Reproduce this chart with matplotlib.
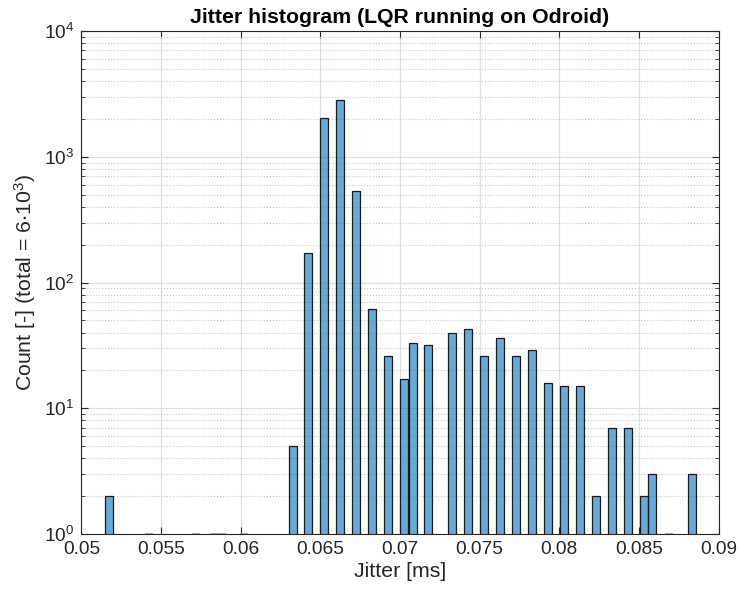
import matplotlib.pyplot as plt
from matplotlib.ticker import LogLocator, NullFormatter

# Jitter histogram data (bin centres in ms, counts per bin)
bin_width = 0.0005
jitter_ms = [0.05171, 0.06326, 0.06424, 0.06525, 0.06623, 0.06726, 0.06826,
             0.06927, 0.07025, 0.07079, 0.07178, 0.07328, 0.07429, 0.07529,
             0.07630, 0.07730, 0.07830, 0.07931, 0.08032, 0.08130, 0.08231,
             0.08331, 0.08432, 0.08532, 0.08582, 0.08834]
counts = [2, 5, 173, 2030, 2815, 537, 62, 26, 17, 33, 32, 40, 43, 26,
          36, 26, 29, 16, 15, 15, 2, 7, 7, 2, 3, 3]
# empty bins inside the data range
empty_bins_ms = [0.05427, 0.05722, 0.05832, 0.05882, 0.06022, 0.08686]

x_ticks = [0.05, 0.055, 0.06, 0.065, 0.07, 0.075, 0.08, 0.085, 0.09]
x_tick_labels = ['0.05', '0.055', '0.06', '0.065', '0.07', '0.075',
                 '0.08', '0.085', '0.09']

plt.rcParams['font.family'] = ['Liberation Sans', 'DejaVu Sans']
plt.rcParams['mathtext.default'] = 'regular'

dark = '#262626'
fig = plt.figure(figsize=(7.4, 5.96), dpi=100)
ax = fig.add_axes([0.110, 0.104, 0.861, 0.844])

ax.bar(jitter_ms, counts, width=bin_width, bottom=0,
       facecolor=(0, 0.447, 0.741, 0.6), edgecolor='#1a1a1a', linewidth=0.9,
       zorder=3)
ax.bar(empty_bins_ms, [0] * len(empty_bins_ms), width=bin_width, bottom=1,
       facecolor='none', edgecolor='#999999', linewidth=1.2, zorder=3)

ax.set_yscale('log')
ax.set_xlim(0.05, 0.09)
ax.set_ylim(1, 1e4)
ax.set_xticks(x_ticks)
ax.set_xticklabels(x_tick_labels)
ax.yaxis.set_major_locator(LogLocator(base=10, numticks=10))
ax.yaxis.set_minor_locator(LogLocator(base=10, subs=range(2, 10), numticks=10))
ax.yaxis.set_minor_formatter(NullFormatter())

ax.grid(True, which='major', color='#dfdfdf', linewidth=0.9, zorder=0)
ax.grid(True, which='minor', axis='y', color='#c8c8c8', linestyle=':',
        linewidth=0.8, zorder=0)
ax.set_axisbelow(True)

ax.tick_params(which='both', direction='in', top=True, right=True,
               colors=dark, labelsize=13.8)
ax.tick_params(which='major', length=5, width=0.8)
ax.tick_params(which='minor', length=3, width=0.6)
ax.tick_params(axis='x', pad=5)
ax.tick_params(axis='y', pad=5)
for s in ax.spines.values():
    s.set_color(dark)
    s.set_linewidth(0.8)

ax.set_xlabel('Jitter [ms]', fontsize=15.3, color=dark, labelpad=3)
ax.set_ylabel(r'Count [-] (total = 6$\cdot$10$^3$)', fontsize=15.3,
              color=dark, labelpad=4)
ax.set_title('Jitter histogram (LQR running on Odroid)', fontsize=15.3,
             fontweight='bold', color='black', pad=6)

fig.savefig('out.png', dpi=100)
